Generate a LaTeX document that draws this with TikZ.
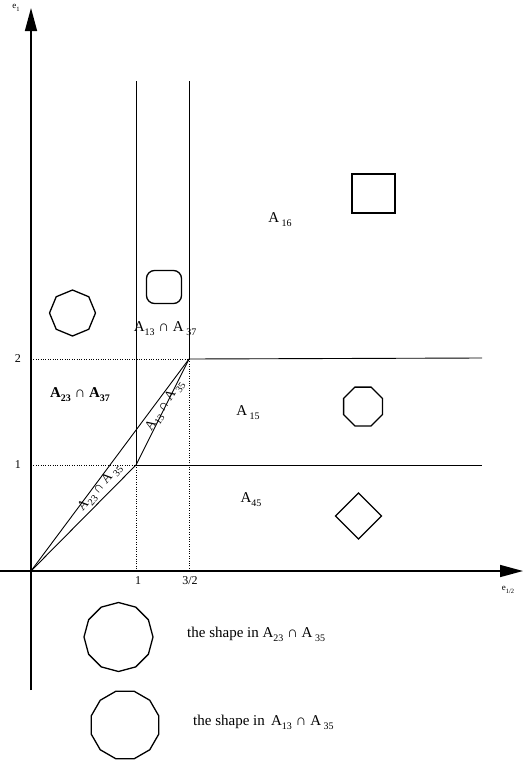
\documentclass[tikz,border=0pt]{standalone}
\usepackage{fontspec}
\setmainfont{Liberation Serif}
\usetikzlibrary{arrows.meta,shapes.geometric}
\newcommand{\sbs}[1]{\raisebox{-0.28em}{\fontsize{10}{10}\selectfont #1}}
\newcommand{\ssbs}[1]{\raisebox{-0.25em}{\fontsize{6.5}{6.5}\selectfont #1}}
\begin{document}
\begin{tikzpicture}[x=1pt,y=-1pt,
  axis/.style={line width=1.5pt,-{Triangle[length=23pt,width=12pt]}},
  gridline/.style={line width=0.9pt},
  dotline/.style={line width=0.8pt,dash pattern=on 1pt off 1.4pt},
  shp/.style={draw,line width=1.3pt,inner sep=0pt},
  lbl/.style={font=\fontsize{15}{17}\selectfont,inner sep=0pt,anchor=base},
  dlbl/.style={font=\fontsize{13.5}{15}\selectfont,inner sep=0pt},
  tick/.style={font=\fontsize{12}{14}\selectfont,inner sep=0pt},
  axlbl/.style={font=\fontsize{9}{10}\selectfont,inner sep=0pt},
]
\useasboundingbox (0,0) rectangle (523,761);
% key points
\coordinate (O) at (31,571);
\coordinate (P11) at (136,465);
\coordinate (P32) at (189,359);
\coordinate (Y1) at (31,465);
\coordinate (Y2) at (31,359);
\coordinate (X1) at (136,571);
\coordinate (X32) at (189,571);
\coordinate (T1) at (136,81);
\coordinate (T32) at (189,81);
\coordinate (R2) at (482,358);
\coordinate (R1) at (482,465);
\coordinate (ybot) at (31,690);
\coordinate (ytop) at (31,8);
\coordinate (xleft) at (0,571);
\coordinate (xright) at (523,571);
% axes
\draw[axis] (ybot) -- (ytop);
\draw[axis] (xleft) -- (xright);
% solid lines
\draw[gridline] (T1) -- (P11);
\draw[gridline] (T32) -- (P32);
\draw[gridline] (P32) -- (R2);
\draw[gridline] (P11) -- (R1);
\draw[gridline] (O) -- (P32);
\draw[gridline] (O) -- (P11) -- (P32);
% dotted lines
\draw[dotline] (Y2) -- (P32);
\draw[dotline] (Y1) -- (P11);
\draw[dotline] (P11) -- (X1);
\draw[dotline] (P32) -- (X32);
% axis labels
\node[axlbl] (e1) at (16,8) {e\ssbs{1}};
\node[axlbl] (e12) at (508,590) {e\ssbs{1/2}};
% ticks
\node[tick] (t1) at (138,581) {1};
\node[tick] (t32) at (190,581) {3/2};
\node[tick] (t2) at (18,359) {2};
\node[tick] (ty1) at (18,465) {1};
% region labels
\node[lbl] (a16) at (280,222) {A\,\sbs{16}};
\node[lbl] (a1337) at (165,331) {A\sbs{13} ∩ A\,\sbs{37}};
\node[lbl,font=\fontsize{15}{17}\selectfont\bfseries] (a2337) at (80,397) {A\sbs{23} ∩ A\sbs{37}};
\node[lbl] (a15) at (248,415) {A\,\sbs{15}};
\node[lbl] (a45) at (251,502) {A\sbs{45}};
\node[dlbl,rotate=49] (d2335) at (100,488) {A\sbs{23} ∩ A\,\sbs{35}};
\node[dlbl,rotate=57] (d1335) at (165,406) {A\sbs{13} ∩ A\,\sbs{35}};
% shapes
\node[shp,rectangle,minimum width=43pt,minimum height=39pt] (sq) at (373.5,193.5) {};
\node[shp,rectangle,rounded corners=8pt,minimum width=35pt,minimum height=33pt] (rsq) at (164,287) {};
\node[shp,regular polygon,regular polygon sides=8,shape border rotate=22.5,minimum size=46pt] (oct1) at (72.5,313) {};
\node[shp,regular polygon,regular polygon sides=8,minimum size=42pt] (oct2) at (363,406.5) {};
\node[shp,regular polygon,regular polygon sides=4,shape border rotate=45,minimum size=46pt] (dia) at (358.5,516) {};
\node[shp,regular polygon,regular polygon sides=12,shape border rotate=15,minimum size=69pt] (big1) at (118.5,637) {};
\node[shp,regular polygon,regular polygon sides=12,minimum size=70pt] (big2) at (125,725) {};
% legend texts
\node[lbl,anchor=base west] (txt1) at (187,637) {the shape in A\sbs{23} ∩ A\,\sbs{35}};
\node[lbl,anchor=base west] (txt2) at (193,725) {the shape in \,A\sbs{13} ∩ A\,\sbs{35}};
\end{tikzpicture}
\end{document}
